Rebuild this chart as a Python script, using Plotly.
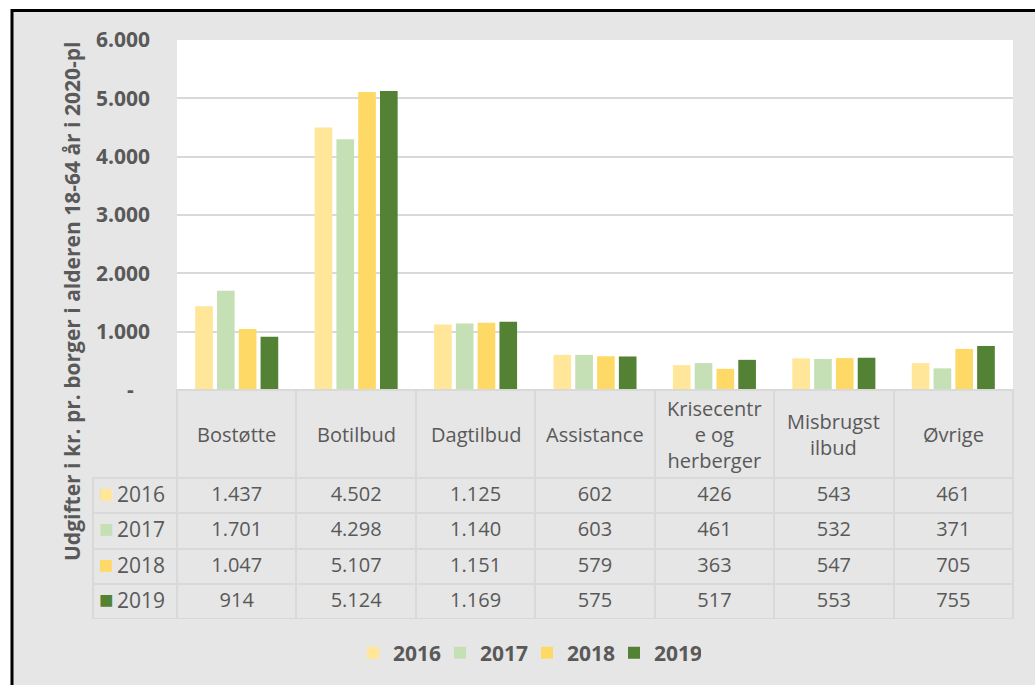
import plotly.graph_objects as go

categories = ["Bostøtte", "Botilbud", "Dagtilbud", "Assistance",
              "Krisecentre og herberger", "Misbrugstilbud", "Øvrige"]
header_labels = ["Bostøtte", "Botilbud", "Dagtilbud", "Assistance",
                 "Krisecentr<br>e og<br>herberger", "Misbrugst<br>ilbud", "Øvrige"]
years = ["2016", "2017", "2018", "2019"]
v2016 = [1437, 4502, 1125, 602, 426, 543, 461]
v2017 = [1701, 4298, 1140, 603, 461, 532, 371]
v2018 = [1047, 5107, 1151, 579, 363, 547, 705]
v2019 = [914, 5124, 1169, 575, 517, 553, 755]
series = [v2016, v2017, v2018, v2019]
colors = ["#FFE699", "#C5E0B4", "#FFD966", "#548235"]
tick_vals = [0, 1000, 2000, 3000, 4000, 5000, 6000]
tick_text = ["-\u00a0\u00a0\u00a0", "1.000", "2.000", "3.000", "4.000", "5.000", "6.000"]
y_title = "Udgifter i kr. pr. borger i alderen 18-64 år i 2020-pl"

W, H = 1035, 685
# layout in page pixel coordinates
L_REF, R_REF, T_REF, B_REF = 93, 1013, 40, 619
ML, MT = L_REF, T_REF
MR, MB = W - R_REF, H - B_REF
PW, PH = W - ML - MR, H - MT - MB

def xp(px):
    return (px - L_REF) / PW

def yp(py):
    return 1 - (py - T_REF) / PH

BG = "#E6E6E6"
TXT = "#595959"
GRID = "#D9D9D9"
FONT = "Open Sans"
CLEAR = "rgba(0,0,0,0)"

def fmt(v):
    return f"{v:,}".replace(",", ".")

fig = go.Figure()
for name, vals, col in zip(years, series, colors):
    fig.add_trace(go.Bar(x=categories, y=vals, name=name,
                         marker=dict(color=col, line=dict(width=0)),
                         hoverinfo="skip"))

# data table (row-label column text added as annotations)
table_cols = [[""] * len(years)]
for i in range(len(categories)):
    table_cols.append([fmt(s[i]) for s in series])

ROW_H = 35.25
HEAD_H = 88
plot_y0 = yp(390)
fig.add_trace(go.Table(
    domain=dict(x=[0, 1], y=[0, plot_y0]),
    columnwidth=[84] + [836 / 7] * 7,
    header=dict(values=[""] * 8, height=HEAD_H,
                fill=dict(color=[CLEAR] + [BG] * 7),
                line=dict(color=[CLEAR] + [GRID] * 7, width=2),
                font=dict(family=FONT, size=20, color=TXT)),
    cells=dict(values=table_cols, height=ROW_H,
               align="center",
               fill=dict(color=BG),
               line=dict(color=GRID, width=2),
               font=dict(family=FONT, size=20, color=TXT)),
))

annotations = []
for cat, lab in zip(categories, header_labels):
    annotations.append(dict(x=cat, xref="x", y=yp(434), yref="paper",
                            text=lab, showarrow=False, yanchor="middle",
                            font=dict(family=FONT, size=20, color=TXT)))
for k, (yr, col) in enumerate(zip(years, colors)):
    cy = 390 + HEAD_H + ROW_H * (k + 0.5) - 3
    annotations.append(dict(x=xp(97), y=yp(cy), xref="paper", yref="paper",
                            text=f'<span style="color:{col};font-size:24px">■</span>\u2009{yr}',
                            showarrow=False, xanchor="left", yanchor="middle",
                            font=dict(family=FONT, size=21, color=TXT)))
annotations.append(dict(x=xp(72), y=yp(302), xref="paper", yref="paper",
                        text=f"<b>{y_title}</b>", textangle=-90, showarrow=False,
                        xanchor="center", yanchor="middle",
                        font=dict(family=FONT, size=21, color=TXT)))

shapes = [
    dict(type="rect", xref="paper", yref="paper", x0=xp(-20), x1=xp(11), y0=yp(720), y1=yp(-20),
         fillcolor="white", line=dict(width=0), layer="above"),
    dict(type="rect", xref="paper", yref="paper", x0=xp(-20), x1=xp(1060), y0=yp(9), y1=yp(-20),
         fillcolor="white", line=dict(width=0), layer="above"),
    dict(type="rect", xref="paper", yref="paper", x0=xp(12), x1=xp(1060), y0=yp(720), y1=yp(10.5),
         fillcolor=CLEAR, line=dict(color="black", width=3), layer="above"),
]

fig.update_layout(
    width=W, height=H,
    margin=dict(l=ML, r=MR, t=MT, b=MB, autoexpand=False),
    paper_bgcolor=BG, plot_bgcolor="white",
    barmode="group", bargap=0.27, bargroupgap=0.19,
    font=dict(family=FONT, color=TXT),
    xaxis=dict(domain=[xp(177), 1], showticklabels=False, showgrid=False,
               zeroline=False, showline=False, ticks=""),
    yaxis=dict(domain=[plot_y0, 1], range=[0, 6000], tickvals=tick_vals, ticktext=tick_text,
               showgrid=True, gridcolor=GRID, gridwidth=2, zeroline=False, showline=False,
               ticks="", ticklabelstandoff=26,
               tickfont=dict(family=FONT, size=21, color=TXT, weight="bold")),
    legend=dict(orientation="h", x=xp(527), xanchor="center", y=yp(653), yanchor="middle",
                font=dict(family=FONT, size=21, color=TXT, weight="bold"),
                bgcolor=CLEAR, itemwidth=30, entrywidth=42, entrywidthmode="pixels"),
    annotations=annotations,
    shapes=shapes,
)

fig.write_html(
    "out.html",
    config={"displayModeBar": False},
    post_script="document.documentElement.style.overflow='hidden';"
                "document.body.style.margin='0';document.body.style.overflow='hidden';",
)
